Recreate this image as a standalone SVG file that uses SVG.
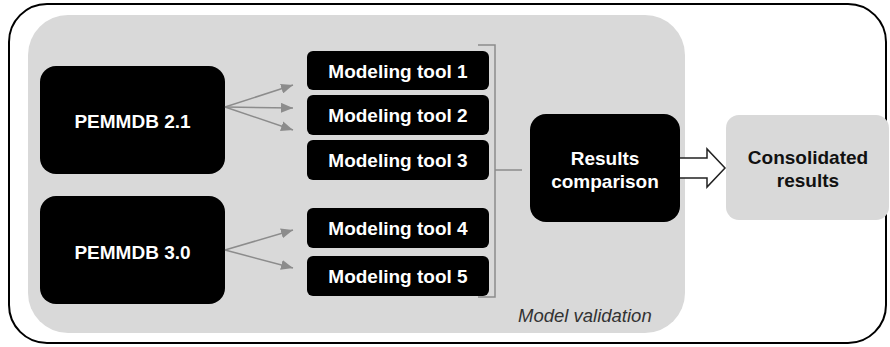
<svg xmlns="http://www.w3.org/2000/svg" width="890" height="347" viewBox="0 0 890 347">
<style>
.blk{fill:#000;}
.wt{font-family:"Liberation Sans",Arial,sans-serif;font-weight:bold;font-size:19px;fill:#fff;text-anchor:middle;}
.bt{font-family:"Liberation Sans",Arial,sans-serif;font-weight:bold;font-size:19px;fill:#111;text-anchor:middle;}
.conn{stroke:#8c8c8c;stroke-width:1.5;fill:none;}
</style>
<defs>
<marker id="ah" viewBox="0 0 12 10" refX="12" refY="5" markerWidth="12" markerHeight="10" markerUnits="userSpaceOnUse" orient="auto">
<path d="M0,0 L12,5 L0,10 Z" fill="#8c8c8c"/>
</marker>
</defs>
<rect id="frame" x="9" y="4" width="877" height="339" rx="38" ry="38" fill="#fff" stroke="#000" stroke-width="2"/>
<g id="model-validation">
<rect x="28" y="15" width="657" height="318" rx="40" ry="40" fill="#d9d9d9"/>
<text x="518" y="322" font-family="Liberation Sans,Arial,sans-serif" font-style="italic" font-size="18.5" fill="#333">Model validation</text>
</g>
<g id="pemmdb21"><rect class="blk" x="40" y="66" width="185" height="108" rx="16"/><text class="wt" x="132.5" y="128">PEMMDB 2.1</text></g>
<g id="pemmdb30"><rect class="blk" x="40" y="196" width="185" height="108" rx="16"/><text class="wt" x="132.5" y="259">PEMMDB 3.0</text></g>
<g id="tool1"><rect class="blk" x="307" y="51" width="182" height="39" rx="6"/><text class="wt" x="398" y="78">Modeling tool 1</text></g>
<g id="tool2"><rect class="blk" x="307" y="95" width="182" height="40" rx="6"/><text class="wt" x="398" y="122">Modeling tool 2</text></g>
<g id="tool3"><rect class="blk" x="307" y="140" width="182" height="40" rx="6"/><text class="wt" x="398" y="167">Modeling tool 3</text></g>
<g id="tool4"><rect class="blk" x="307" y="208" width="182" height="40" rx="6"/><text class="wt" x="398" y="235">Modeling tool 4</text></g>
<g id="tool5"><rect class="blk" x="307" y="256" width="182" height="40" rx="6"/><text class="wt" x="398" y="283">Modeling tool 5</text></g>
<g id="results-comparison"><rect class="blk" x="530" y="114" width="150" height="108" rx="16"/><text class="wt" x="605" y="165">Results</text><text class="wt" x="605" y="188">comparison</text></g>
<g id="consolidated"><rect x="726" y="115" width="163" height="105" rx="13" fill="#d9d9d9"/><text class="bt" x="808" y="164">Consolidated</text><text class="bt" x="808" y="187">results</text></g>
<g id="connectors">
<path class="conn" d="M225,107 L293,85" marker-end="url(#ah)"/>
<path class="conn" d="M225,107 L293,108" marker-end="url(#ah)"/>
<path class="conn" d="M225,107 L293,130" marker-end="url(#ah)"/>
<path class="conn" d="M225,250 L293,230" marker-end="url(#ah)"/>
<path class="conn" d="M225,250 L293,268" marker-end="url(#ah)"/>
<path class="conn" d="M478,45 L495,45 L495,297 L478,297 M495,170 L522,170"/>
<path d="M680,158 L707,158 L707,149 L725,168 L707,187 L707,178 L680,178" fill="#fff" stroke="#222" stroke-width="1.5" stroke-linejoin="miter"/>
</g>
</svg>
